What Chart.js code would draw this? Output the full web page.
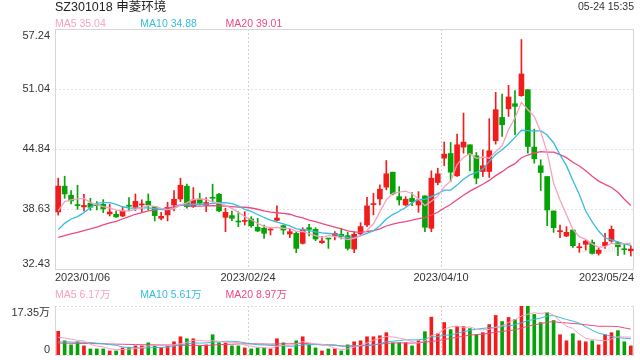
<!DOCTYPE html>
<html>
<head>
<meta charset="utf-8">
<script src="https://cdn.jsdelivr.net/npm/chart.js@4.4.0/dist/chart.umd.min.js"></script>
<style>
  body { margin: 0; background: #fff; }
  #wrap { position: relative; width: 640px; height: 360px; }
  canvas { position: absolute; left: 0; }
</style>
</head>
<body>
<div id="wrap">
  <canvas id="kline" width="640" height="285" style="top:0"></canvas>
  <canvas id="volume" width="640" height="75" style="top:285px"></canvas>
</div>

<script>
// trading days 2023/01/06 .. 2023/05/24
var dates = ("01/06 01/09 01/10 01/11 01/12 01/13 01/16 01/17 01/18 01/19 01/20 01/30 01/31 " +
  "02/01 02/02 02/03 02/06 02/07 02/08 02/09 02/10 02/13 02/14 02/15 02/16 02/17 02/20 02/21 02/22 02/23 02/24 02/27 02/28 " +
  "03/01 03/02 03/03 03/06 03/07 03/08 03/09 03/10 03/13 03/14 03/15 03/16 03/17 03/20 03/21 03/22 03/23 03/24 03/27 03/28 03/29 03/30 03/31 " +
  "04/03 04/04 04/06 04/07 04/10 04/11 04/12 04/13 04/14 04/17 04/18 04/19 04/20 04/21 04/24 04/25 04/26 04/27 04/28 " +
  "05/04 05/05 05/08 05/09 05/10 05/11 05/12 05/15 05/16 05/17 05/18 05/19 05/22 05/23 05/24").split(" ").map(function(d) { return "2023/" + d; });

var axisDates = ["2023/01/06", "2023/02/24", "2023/04/10", "2023/05/24"];
var priceTicks = [57.24, 51.04, 44.84, 38.63, 32.43];
var volTickLabels = ["17.35万", "0"];
var volMax = 17.35;

var opens = [38.33, 40.99, 40.06, 39.05, 38.85, 39.23, 39.02, 39.12, 38.12, 38.09,
  37.91, 38.98, 38.81, 39.05, 39.43, 38.88, 37.67, 38.02, 39.05, 39.67,
  40.99, 38.88, 39.67, 39.02, 39.80, 40.16, 37.77, 37.95, 37.36, 37.36,
  37.60, 36.74, 36.64, 36.46, 37.46, 36.91, 36.05, 36.12, 35.08, 36.70,
  36.53, 35.15, 35.60, 35.88, 36.02, 35.88, 34.49, 36.05, 36.98, 39.09,
  39.67, 40.89, 42.44, 39.91, 39.05, 39.74, 39.05, 39.99, 36.64, 41.37,
  43.89, 44.37, 42.06, 45.03, 45.27, 44.13, 42.51, 42.51, 45.69, 48.10,
  48.99, 49.52, 50.35, 50.97, 45.03, 43.10, 41.99, 38.43, 36.29, 35.84,
  36.46, 34.63, 34.98, 35.18, 34.04, 34.84, 35.32, 35.15, 34.49, 34.32];
var highs = [41.82, 42.02, 40.54, 41.09, 40.16, 39.74, 39.40, 39.60, 39.12, 38.43,
  38.81, 39.81, 40.19, 39.57, 40.19, 38.88, 38.29, 39.33, 40.54, 41.82,
  41.20, 40.85, 40.26, 39.81, 41.20, 40.26, 38.71, 38.43, 38.36, 38.36,
  37.84, 37.67, 36.98, 36.70, 38.95, 36.98, 36.64, 36.29, 36.70, 37.05,
  36.70, 35.77, 35.60, 36.29, 36.64, 36.22, 36.29, 37.22, 39.85, 40.26,
  41.13, 43.65, 42.44, 40.95, 39.91, 40.33, 40.43, 39.99, 42.58, 42.85,
  45.55, 45.51, 46.38, 48.55, 45.27, 44.48, 44.75, 47.97, 50.69, 50.52,
  51.42, 50.87, 56.15, 50.97, 46.89, 43.72, 41.99, 38.43, 36.98, 36.81,
  36.46, 35.08, 35.43, 35.43, 34.56, 36.12, 36.88, 35.25, 35.08, 34.84];
var lows = [38.00, 39.74, 39.16, 38.60, 38.43, 38.50, 38.53, 38.26, 37.91, 37.77,
  37.84, 38.47, 38.47, 38.36, 38.53, 37.40, 37.50, 37.40, 38.43, 39.40,
  38.71, 38.78, 39.05, 38.36, 39.40, 38.36, 36.29, 37.43, 36.81, 36.98,
  36.74, 36.29, 35.60, 35.95, 37.40, 36.02, 35.67, 34.11, 35.01, 35.84,
  35.36, 35.08, 34.56, 35.43, 35.53, 34.39, 34.11, 35.95, 36.81, 38.02,
  39.05, 40.61, 40.09, 39.05, 38.95, 38.98, 38.29, 36.29, 36.29, 41.13,
  43.10, 41.47, 41.99, 44.41, 42.58, 41.23, 41.99, 41.89, 45.34, 46.14,
  48.21, 46.31, 50.28, 44.41, 43.37, 40.54, 36.91, 36.22, 35.67, 35.77,
  34.67, 34.15, 34.39, 33.98, 33.87, 34.56, 35.18, 33.80, 33.94, 33.77];
var closes = [41.00, 40.19, 39.47, 38.98, 39.00, 38.81, 38.98, 38.64, 38.33, 37.81,
  38.43, 38.92, 39.43, 39.16, 39.05, 37.95, 37.88, 38.81, 39.64, 41.09,
  38.88, 39.57, 39.23, 39.30, 39.74, 38.43, 38.29, 37.67, 37.29, 37.46,
  36.91, 36.36, 36.12, 36.57, 37.70, 36.46, 36.29, 34.56, 36.53, 36.53,
  35.53, 35.32, 35.53, 36.12, 35.77, 34.56, 36.02, 36.81, 38.95, 39.19,
  40.68, 42.27, 40.19, 39.57, 39.64, 39.40, 39.57, 36.74, 41.82, 42.27,
  44.30, 42.44, 45.27, 45.55, 44.30, 41.82, 43.10, 44.65, 48.90, 47.34,
  50.21, 49.24, 52.59, 45.10, 43.82, 42.40, 38.53, 36.70, 36.36, 36.22,
  34.84, 34.73, 35.32, 34.04, 34.39, 35.18, 36.53, 34.73, 34.42, 34.49];
// volume, 万股
var volumes = [8.38, 5.03, 3.59, 4.67, 3.23, 2.15, 2.15, 2.15, 1.44, 1.44,
  2.51, 2.75, 3.23, 3.23, 4.31, 3.23, 2.51, 3.23, 4.67, 6.46,
  5.75, 5.75, 3.23, 3.59, 7.18, 4.31, 4.31, 3.23, 3.23, 2.51,
  2.15, 2.51, 2.51, 2.15, 5.75, 4.31, 2.15, 5.03, 6.46, 3.59,
  2.51, 1.44, 2.15, 2.15, 1.44, 3.59, 4.67, 5.03, 6.46, 6.46,
  6.82, 7.90, 4.31, 4.31, 4.31, 3.23, 5.03, 8.26, 13.40, 7.54,
  11.49, 8.98, 10.05, 10.05, 9.34, 7.18, 7.90, 10.77, 14.00, 11.85,
  13.29, 12.57, 17.24, 17.35, 14.36, 11.49, 15.08, 12.21, 7.18, 5.03,
  7.54, 5.03, 4.67, 5.03, 3.59, 7.18, 7.90, 8.62, 4.67, 3.23];

// MA values before enough history is on screen
var ma5Head = [38.43, 39.40, 39.57, 39.67];
var ma10Head = [36.50, 37.15, 37.60, 37.84, 38.26, 38.78, 39.23, 39.30, 39.30];
var ma20Head = [35.70, 35.87, 36.05, 36.22, 36.39, 36.57, 36.77, 36.98, 37.19, 37.36,
  37.60, 37.84, 38.09, 38.26, 38.43, 38.53, 38.64, 38.74, 38.85];
var volMa5Head = [6.3, 6.0, 5.6, 5.2];
var volMa10Head = [4.6, 4.6, 4.6, 4.5, 4.5, 4.4, 4.2, 4.0, 3.7];
var volMa20Head = [4.2, 4.2, 4.15, 4.1, 4.1, 4.05, 4.0, 3.95, 3.9, 3.85,
  3.8, 3.75, 3.7, 3.65, 3.6, 3.6, 3.55, 3.55, 3.5];

var maLabels = ["MA5 35.04", "MA10 34.88", "MA20 39.01"];
var volMaLabels = ["MA5 6.17万", "MA10 5.61万", "MA20 8.97万"];

var RED = "#f21c1c", GREEN = "#06a306";
var maColors = ["#f7a1c1", "#35bde0", "#ee4a80"];
var FONT = "Arial, 'Liberation Sans', 'Noto Sans CJK SC', sans-serif";

function movingAvg(vals, n, head) {
  return vals.map(function(v, i) {
    if (i < n - 1) return head[i];
    var s = 0;
    for (var j = i - n + 1; j <= i; j++) s += vals[j];
    return s / n;
  });
}

var candleColors = closes.map(function(c, i) { return c >= opens[i] ? RED : GREEN; });

function slotLeft(chart, i) {
  var x = chart.scales.x;
  var w = (x.right - x.left) / dates.length;
  return x.getPixelForValue(i) - w / 2;
}

function hline(ctx, x1, x2, y) { ctx.beginPath(); ctx.moveTo(x1, y); ctx.lineTo(x2, y); ctx.stroke(); }
function vline(ctx, x, y1, y2) { ctx.beginPath(); ctx.moveTo(x, y1); ctx.lineTo(x, y2); ctx.stroke(); }

function drawVGrid(chart) {
  var ctx = chart.ctx, a = chart.chartArea;
  ctx.strokeStyle = "#d2d2d2";
  ctx.setLineDash([2, 2]);
  axisDates.slice(1, -1).forEach(function(d) {
    var px = Math.round(slotLeft(chart, dates.indexOf(d))) + 0.5;
    vline(ctx, px, a.top, a.bottom);
  });
  ctx.setLineDash([]);
}

function drawMaLabels(ctx, labels, y) {
  ctx.font = "10.5px " + FONT;
  ctx.textAlign = "left";
  ctx.textBaseline = "middle";
  labels.forEach(function(t, i) {
    ctx.fillStyle = maColors[i];
    ctx.fillText(t, 55 + i * 85.3, y);
  });
}

var klineDecor = {
  id: "klineDecor",
  beforeDatasetsDraw: function(chart) {
    var ctx = chart.ctx, a = chart.chartArea, y = chart.scales.y;
    ctx.save();
    ctx.lineWidth = 1;
    ctx.strokeStyle = "#e2e2e2";
    ctx.setLineDash([2, 2]);
    priceTicks.slice(1, -1).forEach(function(v) {
      hline(ctx, a.left, a.right, Math.round(y.getPixelForValue(v)) + 0.5);
    });
    ctx.setLineDash([]);
    drawVGrid(chart);
    ctx.strokeStyle = "#d6d6d6";
    ctx.strokeRect(a.left + 0.5, a.top + 0.5, a.right - a.left - 1, a.bottom - a.top);
    ctx.fillStyle = "rgba(0,0,0,0.13)";
    ctx.font = "10px " + FONT;
    ctx.textAlign = "left";
    ctx.textBaseline = "middle";
    ctx.fillText("sina.com", 582, 249);
    ctx.restore();
  },
  afterDraw: function(chart) {
    var ctx = chart.ctx, a = chart.chartArea, y = chart.scales.y;
    ctx.save();
    ctx.fillStyle = "#222";
    ctx.font = "12.5px " + FONT;
    ctx.textAlign = "left";
    ctx.textBaseline = "middle";
    ctx.fillText("SZ301018 申菱环境", 55, 7.5);
    ctx.fillStyle = "#333";
    ctx.font = "10.5px " + FONT;
    ctx.textAlign = "right";
    ctx.fillText("05-24 15:35", 634, 7.5);
    drawMaLabels(ctx, maLabels, 24);

    ctx.fillStyle = "#333";
    ctx.font = "11px " + FONT;
    ctx.textAlign = "right";
    priceTicks.forEach(function(v, i) {
      var py = y.getPixelForValue(v);
      ctx.textBaseline = i === 0 ? "top" : (i === priceTicks.length - 1 ? "bottom" : "middle");
      ctx.fillText(v.toFixed(2), 50, i === 0 ? py + 1 : py);
    });

    ctx.textBaseline = "middle";
    axisDates.forEach(function(d, i) {
      var px;
      if (i === 0) { ctx.textAlign = "left"; px = a.left; }
      else if (i === axisDates.length - 1) { ctx.textAlign = "right"; px = a.right; }
      else { ctx.textAlign = "center"; px = slotLeft(chart, dates.indexOf(d)); }
      ctx.fillText(d, px, 277.5);
    });
    ctx.restore();
  }
};

var volDecor = {
  id: "volDecor",
  beforeDatasetsDraw: function(chart) {
    var ctx = chart.ctx, a = chart.chartArea;
    ctx.save();
    ctx.lineWidth = 1;
    ctx.strokeStyle = "#dcdcdc";
    ctx.setLineDash([2, 2]);
    hline(ctx, a.left, a.right, a.top + 0.5);
    hline(ctx, a.left, a.right, a.bottom + 0.5);
    ctx.setLineDash([]);
    drawVGrid(chart);
    ctx.strokeStyle = "#d6d6d6";
    vline(ctx, a.left + 0.5, a.top, a.bottom + 1);
    vline(ctx, a.right - 0.5, a.top, a.bottom + 1);
    ctx.restore();
  },
  afterDraw: function(chart) {
    var ctx = chart.ctx, a = chart.chartArea;
    ctx.save();
    drawMaLabels(ctx, volMaLabels, 10);
    ctx.fillStyle = "#333";
    ctx.font = "11px " + FONT;
    ctx.textAlign = "right";
    ctx.textBaseline = "top";
    ctx.fillText(volTickLabels[0], 50, a.top + 1);
    ctx.textBaseline = "bottom";
    ctx.fillText(volTickLabels[1], 50, a.bottom);
    ctx.restore();
  }
};

function lineSet(data, color, width) {
  return { type: "line", data: data, borderColor: color, borderWidth: width,
    pointRadius: 0, fill: false, tension: 0, order: 0 };
}

var ma5 = movingAvg(closes, 5, ma5Head);
var ma10 = movingAvg(closes, 10, ma10Head);
var ma20 = movingAvg(closes, 20, ma20Head);

new Chart(document.getElementById("kline"), {
  type: "bar",
  data: {
    labels: dates,
    datasets: [
      { data: lows.map(function(l, i) { return [l, highs[i]]; }), backgroundColor: candleColors,
        barThickness: 1, grouped: false, order: 3 },
      { data: opens.map(function(o, i) { return [o, closes[i]]; }), backgroundColor: candleColors,
        barThickness: 5, minBarLength: 1, grouped: false, order: 2 },
      lineSet(ma5, maColors[0], 1.3),
      lineSet(ma10, maColors[1], 1.3),
      lineSet(ma20, maColors[2], 1.3)
    ]
  },
  options: {
    responsive: false,
    animation: false,
    devicePixelRatio: 1,
    layout: { padding: { left: 55, right: 6, top: 29, bottom: 16 } },
    plugins: { legend: { display: false }, tooltip: { enabled: false } },
    scales: {
      x: { display: false, offset: true },
      y: { display: false, min: priceTicks[priceTicks.length - 1], max: priceTicks[0] }
    }
  },
  plugins: [klineDecor]
});

new Chart(document.getElementById("volume"), {
  type: "bar",
  data: {
    labels: dates,
    datasets: [
      { data: volumes, backgroundColor: candleColors, barThickness: 3, grouped: false, order: 1 },
      lineSet(movingAvg(volumes, 5, volMa5Head), maColors[0], 1),
      lineSet(movingAvg(volumes, 10, volMa10Head), maColors[1], 1),
      lineSet(movingAvg(volumes, 20, volMa20Head), maColors[2], 1)
    ]
  },
  options: {
    responsive: false,
    animation: false,
    devicePixelRatio: 1,
    layout: { padding: { left: 55, right: 6, top: 21, bottom: 5 } },
    plugins: { legend: { display: false }, tooltip: { enabled: false } },
    scales: {
      x: { display: false, offset: true },
      y: { display: false, min: 0, max: volMax }
    }
  },
  plugins: [volDecor]
});
</script>
</body>
</html>
